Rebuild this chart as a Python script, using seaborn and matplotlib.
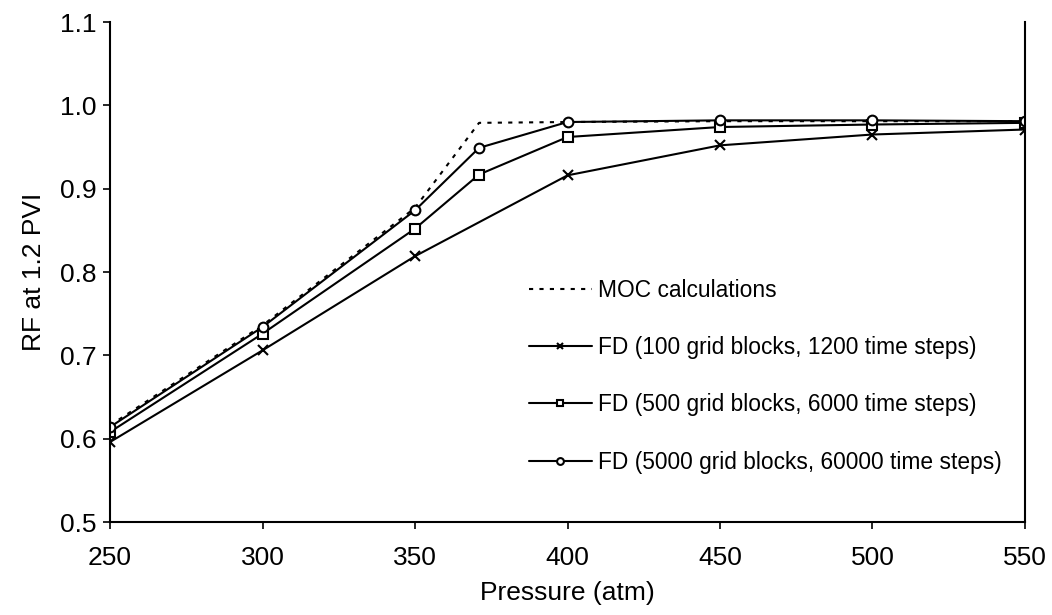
import matplotlib
matplotlib.use("Agg")
import matplotlib.pyplot as plt
import seaborn as sns

sns.set_style("ticks")
plt.rcParams['font.family'] = ['Liberation Sans', 'DejaVu Sans']
plt.rcParams['text.color'] = 'black'
plt.rcParams['axes.labelcolor'] = 'black'

# Pressure (atm) and recovery factor at 1.2 PVI
moc_p = [250, 300, 350, 371, 400, 450, 500, 550]
moc_rf = [0.616, 0.736, 0.877, 0.979, 0.980, 0.981, 0.981, 0.981]

fd100_p = [250, 300, 350, 400, 450, 500, 550]
fd100_rf = [0.596, 0.706, 0.819, 0.916, 0.952, 0.965, 0.971]

fd500_p = [250, 300, 350, 371, 400, 450, 500, 550]
fd500_rf = [0.608, 0.726, 0.852, 0.917, 0.962, 0.974, 0.977, 0.979]

fd5000_p = [250, 300, 350, 371, 400, 450, 500, 550]
fd5000_rf = [0.614, 0.734, 0.874, 0.949, 0.980, 0.982, 0.982, 0.981]

x_ticks = [250, 300, 350, 400, 450, 500, 550]
y_ticks = [0.5, 0.6, 0.7, 0.8, 0.9, 1.0, 1.1]

fig = plt.figure(figsize=(10.52, 6.15), dpi=100)
ax = fig.add_axes([0.1046, 0.1512, 0.8697, 0.8130])

lw = 1.5
common = dict(ax=ax, color='black', lw=lw)
mk = dict(markersize=7, markerfacecolor='white', markeredgecolor='black',
          markeredgewidth=1.5)

sns.lineplot(x=moc_p, y=moc_rf, linestyle=(0, (2, 3)),
             label='MOC calculations', **common)
sns.lineplot(x=fd100_p, y=fd100_rf, marker='x', markersize=7,
             markeredgecolor='black', markeredgewidth=1.5,
             label='FD (100 grid blocks, 1200 time steps)', **common)
sns.lineplot(x=fd500_p, y=fd500_rf, marker='s',
             label='FD (500 grid blocks, 6000 time steps)', **common, **mk)
sns.lineplot(x=fd5000_p, y=fd5000_rf, marker='o',
             label='FD (5000 grid blocks, 60000 time steps)', **common, **mk)

ax.set_xlim(250, 550)
ax.set_ylim(0.5, 1.1)
ax.set_xticks(x_ticks)
ax.set_yticks(y_ticks)
ax.set_yticklabels([f"{v:.1f}" for v in y_ticks])
ax.tick_params(axis='both', direction='out', length=5, width=1.2,
               labelsize=19, colors='black')
ax.tick_params(axis='x', pad=12)
ax.tick_params(axis='y', pad=5)
ax.set_xlabel('Pressure (atm)', fontsize=19, labelpad=8)
ax.set_ylabel('RF at 1.2 PVI', fontsize=19, labelpad=10)

for side in ['left', 'bottom', 'right']:
    ax.spines[side].set_visible(True)
    ax.spines[side].set_linewidth(1.5)
    ax.spines[side].set_color('black')
ax.spines['top'].set_visible(False)

leg = ax.legend(loc='upper left', bbox_to_anchor=(0.448, 0.504), frameon=False,
                fontsize=16.4, handlelength=2.75, handletextpad=0.26,
                labelspacing=1.5, markerscale=0.7, borderaxespad=0)

fig.savefig('out.png', dpi=100)
